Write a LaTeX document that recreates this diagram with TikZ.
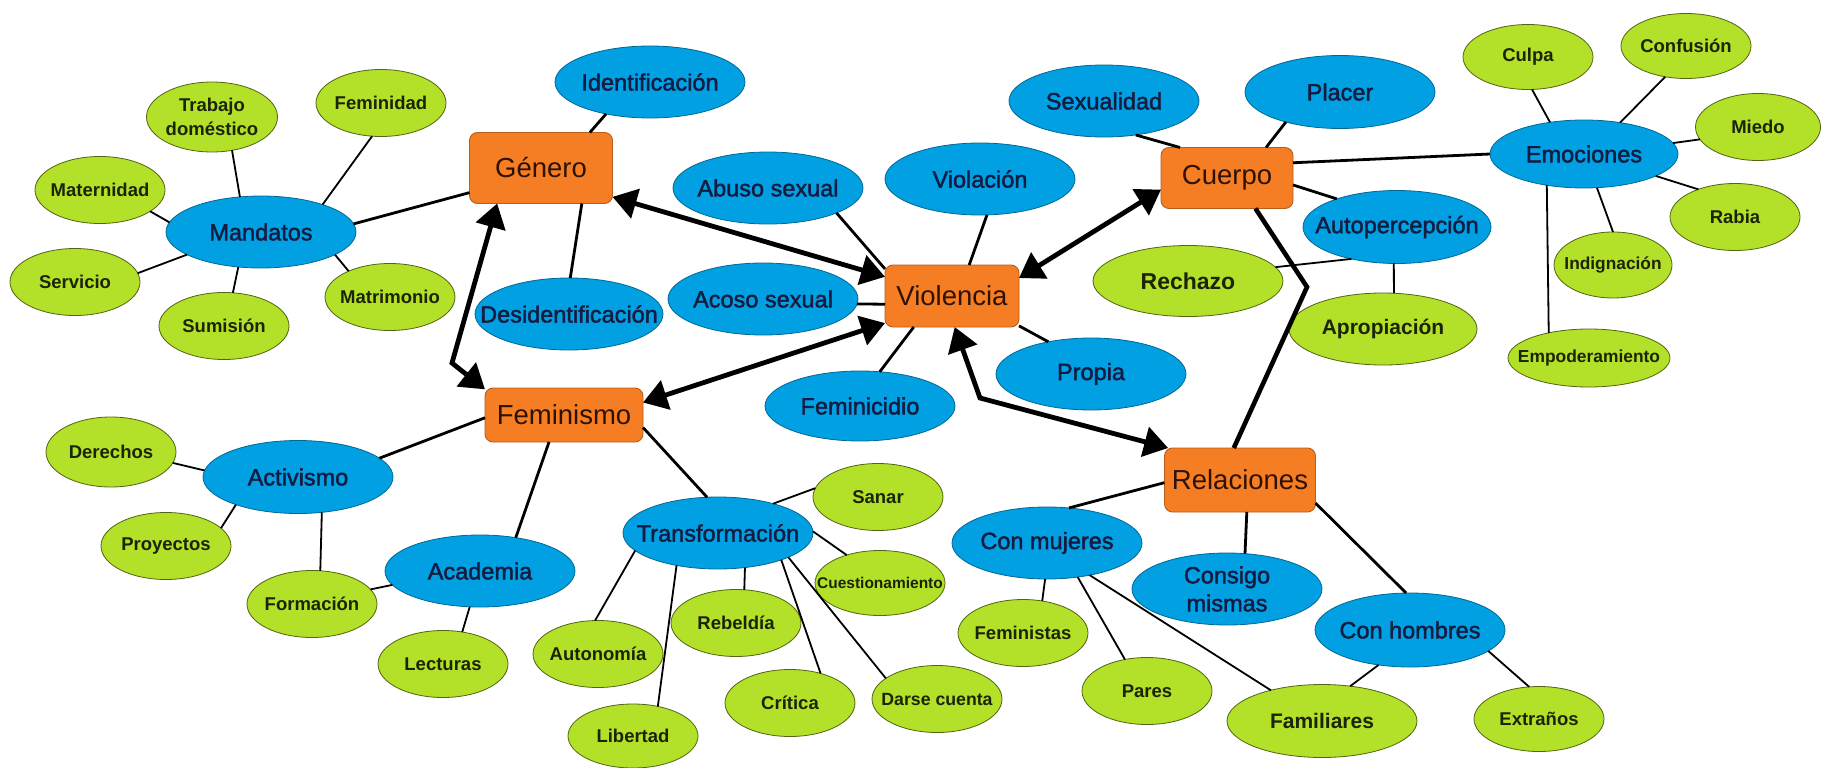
\documentclass[tikz,border=0pt]{standalone}
\usepackage{fontspec}
\setmainfont{Liberation Sans}
\newfontface\letraazul{Liberation Sans}[FakeBold=1.8]
\usepackage{tikz}
\usetikzlibrary{shapes.geometric, arrows.meta}

\definecolor{azul}{RGB}{0,160,227}
\definecolor{verde}{RGB}{179,224,40}
\definecolor{naranja}{RGB}{245,125,35}
\definecolor{tintaazul}{RGB}{20,28,66}
\definecolor{tintaverde}{RGB}{28,36,6}
\definecolor{tintacaja}{RGB}{45,18,5}

\tikzset{
  caja/.style={rectangle, rounded corners=8pt, fill=naranja, draw=naranja!75!black, line width=0.9pt,
    inner sep=0pt, outer sep=0pt, text=tintacaja, font=\fontsize{27.5}{33}\selectfont},
  concepto/.style={ellipse, fill=azul, draw=azul!65!black, line width=0.8pt, minimum width=190pt,
    minimum height=72pt, inner xsep=-45pt, inner ysep=0pt, outer sep=0pt, align=center,
    text=tintaazul, font=\letraazul\fontsize{23.5}{28}\selectfont},
  hoja/.style={ellipse, fill=verde, draw=verde!45!black, line width=0.8pt, minimum width=130pt,
    minimum height=67pt, inner xsep=-45pt, inner ysep=0pt, outer sep=0pt, align=center,
    text=tintaverde, font=\bfseries\fontsize{18.5}{24}\selectfont},
  rama/.style={line width=2.8pt},
  ramita/.style={line width=1.8pt},
  gruesa/.style={line width=4.6pt},
  flecha/.style={line width=4.8pt, >={Triangle[length=24pt,width=30pt]}, <->}
}

\begin{document}
\begin{tikzpicture}[x=1pt, y=-1pt]
    \useasboundingbox (0,0) rectangle (1821,768);
    \fill[white] (0,0) rectangle (1821,768);

    % nodos centrales
    \node[caja, minimum width=143pt, minimum height=71pt] (genero) at (541,168) {Género};
    \node[caja, minimum width=134pt, minimum height=62pt] (violencia) at (952,296) {Violencia};
    \node[caja, minimum width=132pt, minimum height=61pt] (cuerpo) at (1227,178) {Cuerpo};
    \node[caja, minimum width=158pt, minimum height=54pt] (feminismo) at (564,415) {Feminismo};
    \node[caja, minimum width=151pt, minimum height=64pt] (relaciones) at (1240,480) {Relaciones};

    % conceptos
    \node[concepto] (identificacion) at (650,82) {Identificación};
    \node[concepto] (mandatos) at (261,232) {Mandatos};
    \node[concepto] (abuso) at (768,188) {Abuso sexual};
    \node[concepto] (violacion) at (980,179) {Violación};
    \node[concepto] (acoso) at (763,299) {Acoso sexual};
    \node[concepto, minimum width=188pt] (desidentificacion) at (569,314) {Desidentificación};
    \node[concepto] (sexualidad) at (1104,101) {Sexualidad};
    \node[concepto, minimum height=73pt] (placer) at (1340,92) {Placer};
    \node[concepto, minimum width=188pt, minimum height=68pt] (emociones) at (1584,154) {Emociones};
    \node[concepto, minimum width=188pt, minimum height=73pt] (autopercepcion) at (1397,227) {Autopercepción};
    \node[concepto] (propia) at (1091,374) {Propia};
    \node[concepto, minimum height=70pt] (feminicidio) at (860,406) {Feminicidio};
    \node[concepto, minimum height=73pt] (activismo) at (298,477) {Activismo};
    \node[concepto] (academia) at (480,571) {Academia};
    \node[concepto] (transformacion) at (718,533) {Transformación};
    \node[concepto] (conmujeres) at (1047,543) {Con mujeres};
    \node[concepto] (consigo) at (1227,589) {Consigo\\mismas};
    \node[concepto, minimum height=74pt] (conhombres) at (1410,630) {Con hombres};

    % hojas
    \node[hoja, minimum width=131pt, minimum height=70pt] (trabajo) at (212,117) {Trabajo\\doméstico};
    \node[hoja] (feminidad) at (381,103) {Feminidad};
    \node[hoja] (maternidad) at (100,190) {Maternidad};
    \node[hoja] (servicio) at (75,282) {Servicio};
    \node[hoja] (sumision) at (224,326) {Sumisión};
    \node[hoja] (matrimonio) at (390,297) {Matrimonio};
    \node[hoja, minimum height=65pt] (culpa) at (1528,57) {Culpa};
    \node[hoja, minimum height=65pt] (confusion) at (1686,46) {Confusión};
    \node[hoja, minimum width=125pt] (miedo) at (1758,127) {Miedo};
    \node[hoja] (rabia) at (1735,217) {Rabia};
    \node[hoja, minimum width=118pt, minimum height=66pt, font=\bfseries\fontsize{17.3}{21}\selectfont] (indignacion) at (1613,265) {Indignación};
    \node[hoja, minimum width=162pt, minimum height=58pt, font=\bfseries\fontsize{17.4}{21}\selectfont] (empoderamiento) at (1589,358) {Empoderamiento};
    \node[hoja, minimum width=190pt, minimum height=71pt, font=\bfseries\fontsize{23}{28}\selectfont] (rechazo) at (1188,281) {Rechazo};
    \node[hoja, minimum width=188pt, minimum height=72pt, font=\bfseries\fontsize{21}{25}\selectfont] (apropiacion) at (1383,329) {Apropiación};
    \node[hoja, minimum height=70pt] (derechos) at (111,452) {Derechos};
    \node[hoja] (proyectos) at (166,546) {Proyectos};
    \node[hoja] (formacion) at (312,604) {Formación};
    \node[hoja] (lecturas) at (443,664) {Lecturas};
    \node[hoja] (autonomia) at (598,654) {Autonomía};
    \node[hoja, minimum height=64pt] (libertad) at (633,736) {Libertad};
    \node[hoja] (sanar) at (878,497) {Sanar};
    \node[hoja, minimum height=65pt, font=\bfseries\fontsize{15.5}{19}\selectfont] (cuestionamiento) at (880,583) {Cuestionamiento};
    \node[hoja] (rebeldia) at (736,623) {Rebeldía};
    \node[hoja] (critica) at (790,703) {Crítica};
    \node[hoja, font=\bfseries\fontsize{17.7}{21}\selectfont] (darse) at (937,699) {Darse cuenta};
    \node[hoja] (feministas) at (1023,633) {Feministas};
    \node[hoja] (pares) at (1147,691) {Pares};
    \node[hoja, minimum width=190pt, minimum height=73pt, font=\bfseries\fontsize{21}{25}\selectfont] (familiares) at (1322,721) {Familiares};
    \node[hoja, minimum height=65pt] (extranos) at (1539,719) {Extraños};

    \coordinate (codo1) at (452,363);
    \coordinate (codo2) at (980,398);
    \coordinate (codo3) at (1307,287);

    % Genero
    \draw[rama] (mandatos.5) -- (genero.199);
    \draw[rama] (identificacion.216) -- (genero.36);
    \draw[rama] (desidentificacion.88) -- (genero.-41);
    \draw[ramita] (trabajo.-59) -- (mandatos.121);
    \draw[ramita] (feminidad.-105) -- (mandatos.24);
    \draw[ramita] (maternidad.-23) -- (mandatos.174);
    \draw[ramita] (servicio.8) -- (mandatos.197);
    \draw[ramita] (sumision.75) -- (mandatos.-123);
    \draw[ramita] (matrimonio.148) -- (mandatos.-17);

    % Violencia
    \draw[rama] (abuso.-20) -- (violencia.158);
    \draw[rama] (violacion.-79) -- (violencia.61);
    \draw[rama] (acoso.-3) -- (violencia.187);
    \draw[rama] (feminicidio.60) -- (violencia.219);
    \draw[rama] (propia.143) -- (violencia.-24);

    % Cuerpo
    \draw[rama] (sexualidad.-47) -- (cuerpo.147);
    \draw[rama] (placer.209) -- (cuerpo.38);
    \draw[rama] (cuerpo.13) -- (emociones.180);
    \draw[rama] (cuerpo.-6) -- (autopercepcion.155);
    \draw[ramita] (rechazo.9) -- (autopercepcion.215);
    \draw[ramita] (apropiacion.73) -- (autopercepcion.265);
    \draw[ramita] (culpa.-83) -- (emociones.137);
    \draw[ramita] (confusion.236) -- (emociones.41);
    \draw[ramita] (miedo.192) -- (emociones.7);
    \draw[ramita] (rabia.143) -- (emociones.-17);
    \draw[ramita] (indignacion.90) -- (emociones.-69);
    \draw[ramita] (empoderamiento.148) -- (emociones.220);

    % Feminismo
    \draw[rama] (feminismo.182) -- (activismo.13);
    \draw[rama] (feminismo.241) -- (academia.43);
    \draw[rama] (feminismo.-9) -- (transformacion.107);
    \draw[ramita] (derechos.-10) -- (activismo.176);
    \draw[ramita] (proyectos.18) -- (activismo.204);
    \draw[ramita] (activismo.-56) -- (formacion.76);
    \draw[ramita] (formacion.14) -- (academia.189);
    \draw[ramita] (academia.254) -- (lecturas.59);
    \draw[ramita] (transformacion.28) -- (sanar.172);
    \draw[ramita] (transformacion.1) -- (cuestionamiento.140);
    \draw[ramita] (transformacion.-52) -- (rebeldia.76);
    \draw[ramita] (transformacion.192) -- (autonomia.95);
    \draw[ramita] (transformacion.218) -- (libertad.50);
    \draw[ramita] (transformacion.-23) -- (critica.44);
    \draw[ramita] (transformacion.-19) -- (darse.158);

    % Relaciones
    \draw[rama] (relaciones.182) -- (conmujeres.58);
    \draw[rama] (relaciones.-78) -- (consigo.63);
    \draw[rama] (relaciones.-17) -- (conhombres.96);
    \draw[ramita] (conmujeres.267) -- (feministas.59);
    \draw[ramita] (conmujeres.-48) -- (pares.125);
    \draw[ramita] (conmujeres.-37) -- (familiares.149);
    \draw[ramita] (conhombres.228) -- (familiares.51);
    \draw[ramita] (conhombres.-15) -- (extranos.107);

    % uniones entre nodos centrales
    \draw[gruesa] (cuerpo.-47) -- (codo3) -- (relaciones.101);
    \draw[flecha] (genero.-22) -- (violencia.164);
    \draw[flecha] (genero.219) -- (codo1) -- (feminismo.162);
    \draw[flecha] (feminismo.9) -- (violencia.202);
    \draw[flecha] (violencia.15) -- (cuerpo.190);
    \draw[flecha] (violencia.-85) -- (codo2) -- (relaciones.156);
\end{tikzpicture}
\end{document}
